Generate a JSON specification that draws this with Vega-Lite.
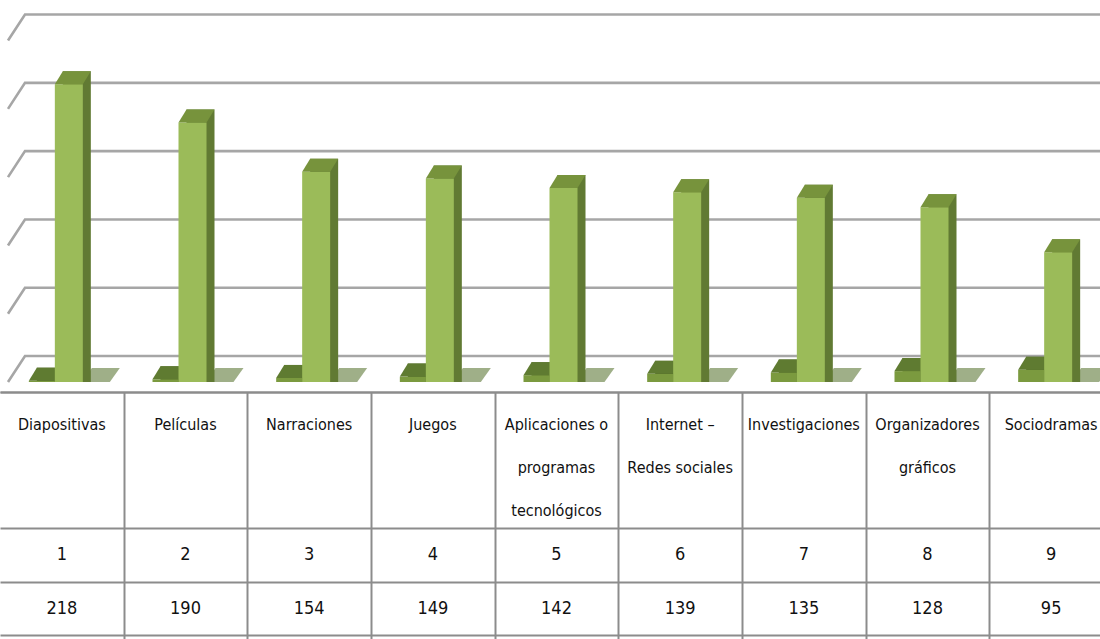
{
  "$schema": "https://vega.github.io/schema/vega-lite/v6.json",
  "padding": 0,
  "background": "white",
  "spacing": 0,
  "bounds": "flush",
  "config": {"view": {"stroke": null}},
  "datasets": {
    "main": [
      {"categoria": "Diapositivas", "etiqueta": "Diapositivas", "orden": 1, "valor": 218},
      {"categoria": "Películas", "etiqueta": "Películas", "orden": 2, "valor": 190},
      {"categoria": "Narraciones", "etiqueta": "Narraciones", "orden": 3, "valor": 154},
      {"categoria": "Juegos", "etiqueta": "Juegos", "orden": 4, "valor": 149},
      {"categoria": "Aplicaciones o programas tecnológicos", "etiqueta": "Aplicaciones o\nprogramas\ntecnológicos", "orden": 5, "valor": 142},
      {"categoria": "Internet – Redes sociales", "etiqueta": "Internet –\nRedes sociales", "orden": 6, "valor": 139},
      {"categoria": "Investigaciones", "etiqueta": "Investigaciones", "orden": 7, "valor": 135},
      {"categoria": "Organizadores gráficos", "etiqueta": "Organizadores\ngráficos", "orden": 8, "valor": 128},
      {"categoria": "Sociodramas", "etiqueta": "Sociodramas", "orden": 9, "valor": 95}
    ],
    "grid": [{"g": 0}, {"g": 50}, {"g": 100}, {"g": 150}, {"g": 200}, {"g": 250}]
  },
  "vconcat": [
    {
      "width": 1113,
      "height": 392,
      "layer": [
        {
          "data": {"name": "grid"},
          "mark": {"type": "point", "shape": "M-17,26L0,0L1090,0", "size": 4, "filled": false, "stroke": "#A6A6A6", "strokeWidth": 2.6, "opacity": 1, "xOffset": -531.5, "yOffset": -26},
          "encoding": {
            "y": {"field": "g", "type": "quantitative", "scale": {"domain": [-7.3, 279.7], "nice": false, "zero": false}, "axis": null}
          }
        },
        {
          "data": {"name": "main"},
          "mark": {"type": "point", "shape": "M14,0L41,0L51,-14L23,-14Z", "size": 4, "filled": true, "fill": "#9FAF88", "strokeWidth": 0, "opacity": 1, "xOffset": 7},
          "encoding": {
            "x": {"field": "categoria", "type": "nominal", "sort": null, "axis": {"orient": "bottom", "title": null, "labels": false, "ticks": false, "grid": false, "domain": true, "domainColor": "#8C8C8C", "domainWidth": 2}},
            "y": {"datum": 0, "type": "quantitative"}
          }
        },
        {
          "data": {"name": "main"},
          "mark": {"type": "bar", "width": 26, "xOffset": -12, "yOffset": -13, "color": "#4E6627"},
          "encoding": {
            "x": {"field": "categoria", "type": "nominal", "sort": null},
            "y": {"field": "orden", "type": "quantitative"},
            "y2": {"datum": 0}
          }
        },
        {
          "data": {"name": "main"},
          "mark": {"type": "bar", "width": 26, "xOffset": -20, "color": "#7B9A3F"},
          "encoding": {
            "x": {"field": "categoria", "type": "nominal", "sort": null},
            "y": {"field": "orden", "type": "quantitative"},
            "y2": {"datum": 0}
          }
        },
        {
          "data": {"name": "main"},
          "mark": {"type": "point", "shape": "M-13,0L13,0L21,-13L-5,-13Z", "size": 4, "filled": true, "fill": "#5F7B31", "strokeWidth": 0, "opacity": 1, "xOffset": -20},
          "encoding": {
            "x": {"field": "categoria", "type": "nominal", "sort": null},
            "y": {"field": "orden", "type": "quantitative"}
          }
        },
        {
          "data": {"name": "main"},
          "mark": {"type": "bar", "width": 28, "xOffset": 15, "yOffset": -13, "color": "#617A33"},
          "encoding": {
            "x": {"field": "categoria", "type": "nominal", "sort": null},
            "y": {"field": "valor", "type": "quantitative"},
            "y2": {"datum": 0}
          }
        },
        {
          "data": {"name": "main"},
          "mark": {"type": "bar", "width": 28, "xOffset": 7, "color": "#9BBB59"},
          "encoding": {
            "x": {"field": "categoria", "type": "nominal", "sort": null},
            "y": {"field": "valor", "type": "quantitative"},
            "y2": {"datum": 0}
          }
        },
        {
          "data": {"name": "main"},
          "mark": {"type": "point", "shape": "M-14,0L14,0L22,-13L-6,-13Z", "size": 4, "filled": true, "fill": "#77933C", "strokeWidth": 0, "opacity": 1, "xOffset": 7},
          "encoding": {
            "x": {"field": "categoria", "type": "nominal", "sort": null},
            "y": {"field": "valor", "type": "quantitative"}
          }
        }
      ]
    },
    {
      "width": 1113,
      "height": 136,
      "data": {"name": "main"},
      "mark": {"type": "text", "lineBreak": "\n", "baseline": "top", "yOffset": -43, "lineHeight": 43, "fontSize": 16, "font": "Liberation Sans Narrow, DejaVu Sans Condensed, Liberation Sans, sans-serif", "color": "#111111"},
      "encoding": {
        "x": {"field": "categoria", "type": "nominal", "sort": null, "axis": {"orient": "top", "title": null, "labels": false, "ticks": false, "domain": true, "domainColor": "#8C8C8C", "domainWidth": 2, "grid": true, "gridColor": "#8C8C8C", "gridWidth": 2, "tickBand": "extent", "values": ["Películas", "Narraciones", "Juegos", "Aplicaciones o programas tecnológicos", "Internet – Redes sociales", "Investigaciones", "Organizadores gráficos", "Sociodramas"]}},
        "text": {"field": "etiqueta", "type": "nominal"}
      }
    },
    {
      "width": 1113,
      "height": 54,
      "data": {"name": "main"},
      "mark": {"type": "text", "fontSize": 18, "font": "Liberation Sans Narrow, DejaVu Sans Condensed, Liberation Sans, sans-serif", "color": "#111111"},
      "encoding": {
        "x": {"field": "categoria", "type": "nominal", "sort": null, "axis": {"orient": "top", "title": null, "labels": false, "ticks": false, "domain": true, "domainColor": "#8C8C8C", "domainWidth": 2, "grid": true, "gridColor": "#8C8C8C", "gridWidth": 2, "tickBand": "extent", "values": ["Películas", "Narraciones", "Juegos", "Aplicaciones o programas tecnológicos", "Internet – Redes sociales", "Investigaciones", "Organizadores gráficos", "Sociodramas"]}},
        "text": {"field": "orden", "type": "quantitative"}
      }
    },
    {
      "width": 1113,
      "height": 53,
      "data": {"name": "main"},
      "mark": {"type": "text", "fontSize": 18, "font": "Liberation Sans Narrow, DejaVu Sans Condensed, Liberation Sans, sans-serif", "color": "#111111"},
      "encoding": {
        "x": {"field": "categoria", "type": "nominal", "sort": null, "axis": {"orient": "top", "title": null, "labels": false, "ticks": false, "domain": true, "domainColor": "#8C8C8C", "domainWidth": 2, "grid": true, "gridColor": "#8C8C8C", "gridWidth": 2, "tickBand": "extent", "values": ["Películas", "Narraciones", "Juegos", "Aplicaciones o programas tecnológicos", "Internet – Redes sociales", "Investigaciones", "Organizadores gráficos", "Sociodramas"]}},
        "text": {"field": "valor", "type": "quantitative"}
      }
    },
    {
      "width": 1113,
      "height": 4,
      "data": {"name": "main"},
      "mark": {"type": "text", "opacity": 0},
      "encoding": {
        "x": {"field": "categoria", "type": "nominal", "sort": null, "axis": {"orient": "top", "title": null, "labels": false, "ticks": false, "domain": true, "domainColor": "#8C8C8C", "domainWidth": 2, "grid": true, "gridColor": "#8C8C8C", "gridWidth": 2, "tickBand": "extent", "values": ["Películas", "Narraciones", "Juegos", "Aplicaciones o programas tecnológicos", "Internet – Redes sociales", "Investigaciones", "Organizadores gráficos", "Sociodramas"]}}
      }
    }
  ]
}
